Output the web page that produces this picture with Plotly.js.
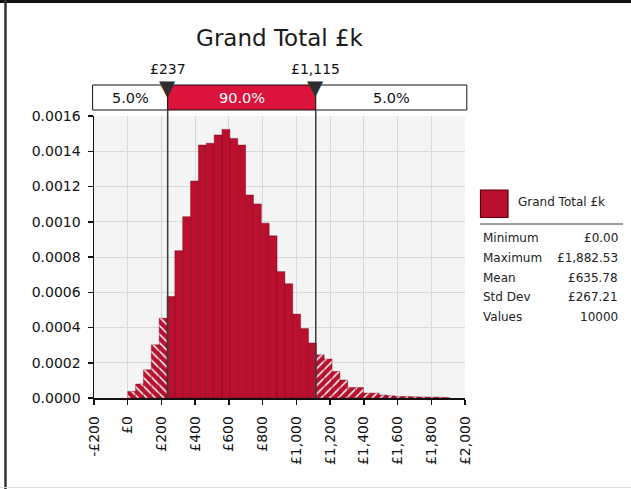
<!DOCTYPE html>
<html>
<head>
<meta charset="utf-8">
<script src="https://cdn.plot.ly/plotly-3.0.1.min.js"></script>
<style>html,body{margin:0;padding:0;background:#fff;}#chart{width:631px;height:489px;}</style>
</head>
<body>
<div id="chart"></div>
<script>
// ---------- data ----------
const chartTitle = 'Grand Total £k';
const binWidth = 46.6;          // £k per histogram bin, bins start at £0
const leftTail = [0.0000374, 0.0000793, 0.000160, 0.000302, 0.000453];
const body = [0.000576, 0.000836, 0.001029, 0.001231, 0.001435, 0.001445, 0.001492, 0.001524,
              0.001473, 0.001435, 0.001152, 0.001101, 0.000992, 0.000920, 0.000717, 0.000648,
              0.000476, 0.000394, 0.000312];
const rightTail = [0.000245, 0.000221, 0.000151, 0.000102, 0.000060, 0.000060, 0.000028, 0.000028,
                   0.000017, 0.000013, 0.000009, 0.000009, 0.000007, 0.000006, 0.000005, 0.000005, 0.000003];
const delimiters = [237, 1115];
const delimiterLabels = ['£237', '£1,115'];
const bandLabels = ['5.0%', '90.0%', '5.0%'];
const xTickVals = [-200, 0, 200, 400, 600, 800, 1000, 1200, 1400, 1600, 1800, 2000];
const xTickText = ['-£200', '£0', '£200', '£400', '£600', '£800', '£1,000', '£1,200', '£1,400', '£1,600', '£1,800', '£2,000'];
const statLabels = ['Minimum', 'Maximum', 'Mean', 'Std Dev', 'Values'];
const statValues = ['£0.00', '£1,882.53', '£635.78', '£267.21', '10000'];

// ---------- geometry helpers ----------
const L = 94, T = 116, W = 371, H = 282;
const xr = [-200, 2000], yr = [0, 0.0016];
const paperX = px => (px - L) / W;
const paperY = py => (T + H - py) / H;
const dataToPx = v => L + (v - xr[0]) / (xr[1] - xr[0]) * W;

const FONT = 'DejaVu Sans, Verdana, sans-serif';
const RED = '#bb0f2d';
const lineCol = 'rgba(100,0,20,0.6)';

function centers(startIdx, n) { const a = []; for (let i = 0; i < n; i++) a.push((startIdx + i + 0.5) * binWidth); return a; }

const traces = [
  { type: 'bar', x: centers(0, leftTail.length), y: leftTail, width: binWidth,
    marker: { color: RED, line: { color: lineCol, width: 0.6 },
              pattern: { shape: '\\', fgcolor: '#ffffff', bgcolor: RED, size: 6, solidity: 0.25 } } },
  { type: 'bar', x: centers(leftTail.length, body.length), y: body, width: binWidth,
    marker: { color: RED, line: { color: lineCol, width: 0.7 } } },
  { type: 'bar', x: centers(leftTail.length + body.length, rightTail.length), y: rightTail, width: binWidth,
    marker: { color: RED, line: { color: lineCol, width: 0.6 },
              pattern: { shape: '/', fgcolor: '#ffffff', bgcolor: RED, size: 6, solidity: 0.25 } } }
];

const bandTop = paperY(85), bandBot = paperY(110);
const bandL = paperX(92.6), bandR = paperX(466.8);
const shapes = [
  // outer frame of picture
  { type: 'line', xref: 'paper', yref: 'paper', x0: paperX(0), x1: paperX(631), y0: paperY(1.5), y1: paperY(1.5), line: { color: '#111', width: 3 } },
  { type: 'line', xref: 'paper', yref: 'paper', x0: paperX(5.5), x1: paperX(5.5), y0: paperY(0), y1: paperY(489), line: { color: '#333', width: 2.5 } },
  { type: 'line', xref: 'paper', yref: 'paper', x0: paperX(0), x1: paperX(631), y0: paperY(487.5), y1: paperY(487.5), line: { color: '#dddddd', width: 1 } },
  // delimiter band
  { type: 'rect', xref: 'paper', yref: 'paper', x0: bandL, x1: paperX(dataToPx(delimiters[0])), y0: bandBot, y1: bandTop, fillcolor: '#ffffff', line: { color: '#111', width: 1 } },
  { type: 'rect', xref: 'paper', yref: 'paper', x0: paperX(dataToPx(delimiters[0])), x1: paperX(dataToPx(delimiters[1])), y0: bandBot, y1: bandTop, fillcolor: '#dc143c', line: { color: '#111', width: 1 } },
  { type: 'rect', xref: 'paper', yref: 'paper', x0: paperX(dataToPx(delimiters[1])), x1: bandR, y0: bandBot, y1: bandTop, fillcolor: '#ffffff', line: { color: '#111', width: 1 } },
  // delimiter lines
  ...delimiters.map(d => ({ type: 'line', xref: 'x', yref: 'paper', x0: d, x1: d, y0: 0, y1: bandBot, line: { color: '#3a3a3a', width: 1.5 } })),
  // legend swatch and separator
  { type: 'rect', xref: 'paper', yref: 'paper', x0: paperX(480.5), x1: paperX(508), y0: paperY(217.5), y1: paperY(190), fillcolor: '#b80f2d', line: { color: '#5a0010', width: 1.2 } },
  { type: 'line', xref: 'paper', yref: 'paper', x0: paperX(480), x1: paperX(623), y0: paperY(224), y1: paperY(224), line: { color: '#808080', width: 1.5 } }
];

const annotations = [];
delimiters.forEach((d, i) => {
  annotations.push({ xref: 'x', yref: 'paper', x: d, y: paperY(69), text: delimiterLabels[i], showarrow: false,
    xanchor: 'center', yanchor: 'middle', font: { family: FONT, size: 14, color: '#111' } });
  annotations.push({ xref: 'x', yref: 'paper', x: d, y: paperY(87.5), text: '▼', showarrow: false,
    xanchor: 'center', yanchor: 'middle', font: { family: FONT, size: 21, color: '#2e2e2e' } });
});
const bandEdges = [bandL, paperX(dataToPx(delimiters[0])), paperX(dataToPx(delimiters[1])), bandR];
bandLabels.forEach((t, i) => annotations.push({ xref: 'paper', yref: 'paper', x: (bandEdges[i] + bandEdges[i + 1]) / 2, y: paperY(97.5), text: t,
  showarrow: false, xanchor: 'center', yanchor: 'middle', font: { family: FONT, size: 14.5, color: i === 1 ? '#ffffff' : '#111' } }));
annotations.push({ xref: 'paper', yref: 'paper', x: paperX(516), y: paperY(202), text: chartTitle, showarrow: false,
  xanchor: 'left', yanchor: 'middle', font: { family: FONT, size: 12, color: '#222' } });
const rowY = [238.3, 258.3, 277.7, 297.3, 316.7];
statLabels.forEach((s, i) => {
  annotations.push({ xref: 'paper', yref: 'paper', x: paperX(481), y: paperY(rowY[i]), text: s, showarrow: false,
    xanchor: 'left', yanchor: 'middle', font: { family: FONT, size: 12, color: '#222' } });
  annotations.push({ xref: 'paper', yref: 'paper', x: paperX(620), y: paperY(rowY[i]), text: statValues[i], showarrow: false,
    xanchor: 'right', yanchor: 'middle', font: { family: FONT, size: 12, color: '#222' } });
});

const layout = {
  width: 631, height: 489,
  margin: { l: L, r: 631 - L - W, t: T, b: 489 - T - H, pad: 0 },
  paper_bgcolor: '#ffffff', plot_bgcolor: '#f4f4f4',
  showlegend: false, bargap: 0, barmode: 'overlay', hovermode: false,
  title: { text: chartTitle, x: 0.5, xref: 'paper', xanchor: 'center', y: 1 - 38 / 489, yref: 'container', yanchor: 'middle',
           font: { family: FONT, size: 23, color: '#1a1a1a' } },
  xaxis: { range: xr, tickmode: 'array', tickvals: xTickVals, ticktext: xTickText, tickangle: -90,
           showgrid: true, gridcolor: '#d9d9d9', gridwidth: 1, zeroline: false,
           showline: true, linecolor: '#111', linewidth: 1.5, ticks: 'outside', ticklen: 5, tickwidth: 1.5, tickcolor: '#111',
           ticklabelstandoff: 6, tickfont: { family: FONT, size: 14, color: '#111' }, fixedrange: true },
  yaxis: { range: yr, dtick: 0.0002, tick0: 0, tickformat: '.4f',
           showgrid: true, gridcolor: '#d9d9d9', gridwidth: 1, zeroline: false,
           showline: true, linecolor: '#111', linewidth: 1.5, ticks: 'outside', ticklen: 5, tickwidth: 1.5, tickcolor: '#111',
           ticklabelstandoff: 4, tickfont: { family: FONT, size: 14, color: '#111' }, fixedrange: true },
  shapes: shapes, annotations: annotations
};

Plotly.newPlot('chart', traces, layout, { staticPlot: true, displayModeBar: false });
</script>
</body>
</html>
